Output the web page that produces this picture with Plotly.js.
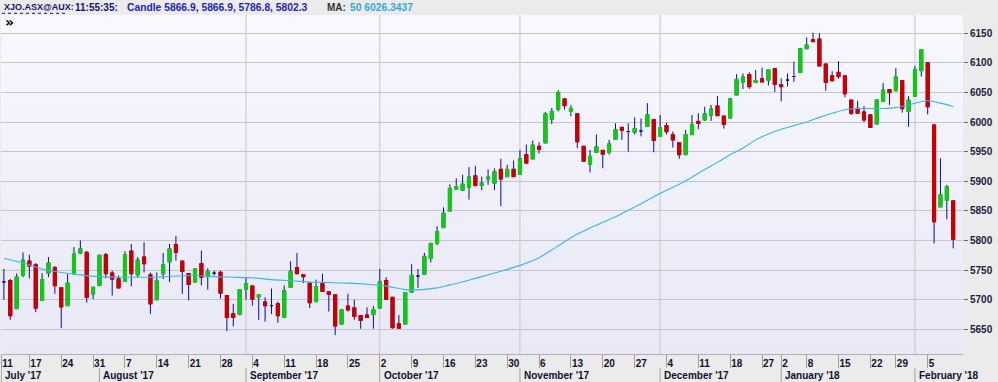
<!DOCTYPE html>
<html>
<head>
<meta charset="utf-8">
<script src="https://cdn.plot.ly/plotly-3.0.1.min.js"></script>
<style>html,body{margin:0;padding:0;background:#ebebeb;}#chart{width:998px;height:382px;}</style>
</head>
<body>
<div id="chart"></div>
<script>
// ---- data (trading-day index 0 = 11 Jul 2017 ... 149 = 9 Feb 2018) ----
const openV = [5730,5732,5685,5741,5765,5759,5699,5745,5754,5720,5690,5744,5779,5780,5710,5724,5776,5745,5735,5731,
5782,5742,5772,5742,5700,5744,5764,5793,5765,5744,5730,5761,5739,5745,5746,5707,5676,5675,5718,5723,
5705,5696,5690,5693,5670,5721,5754,5742,5728,5697,5727,5713,5708,5659,5689,5686,5673,5674,5675,5686,
5732,5704,5659,5659,5713,5740,5743,5770,5795,5822,5850,5887,5885,5890,5909,5893,5904,5897,5920,5908,
5920,5912,5945,5938,5959,5965,6005,6022,6039,6018,6014,5959,5929,5949,5952,5949,5971,5991,5984,5983,
5985,5993,6004,5976,5994,5979,5965,5945,5979,6001,6004,6012,6027,6010,6007,6046,6067,6080,6067,6073,
6071,6090,6063,6071,6077,6084,6124,6139,6140,6098,6078,6084,6078,6037,6023,6017,6012,5997,6035,6055,
6053,6070,6018,6044,6087,6100,5995,5857,5868,5866.9];
const highV = [5752,5735,5744,5780,5776,5762,5745,5772,5757,5720,5743,5789,5800,5782,5721,5776,5779,5749,5741,5782,
5794,5772,5797,5746,5746,5779,5794,5808,5765,5744,5752,5783,5753,5749,5749,5707,5693,5717,5738,5724,
5708,5704,5719,5697,5724,5765,5779,5742,5728,5734,5744,5714,5708,5683,5710,5700,5673,5687,5689,5752,
5738,5704,5674,5712,5760,5752,5779,5796,5824,5856,5895,5905,5911,5924,5926,5908,5920,5922,5938,5928,
5935,5953,5962,5969,5966,6017,6024,6054,6039,6029,6014,5959,5953,5979,5952,5970,5998,5991,5998,6008,
6006,6032,6004,6012,5999,5984,5965,5987,6012,6015,6026,6029,6044,6010,6041,6081,6082,6084,6088,6092,
6088,6091,6074,6082,6102,6124,6143,6151,6150,6098,6086,6103,6078,6037,6036,6027,6012,6039,6066,6055,
6091,6070,6044,6095,6122,6100,5997,5939,5894,5866.9];
const lowV = [5700,5666,5685,5738,5736,5679,5699,5738,5710,5652,5690,5744,5777,5695,5701,5724,5736,5707,5720,5731,
5723,5738,5746,5676,5700,5735,5730,5766,5710,5699,5730,5724,5717,5741,5702,5647,5655,5675,5700,5690,
5666,5663,5676,5661,5670,5721,5744,5728,5686,5697,5714,5680,5640,5659,5680,5666,5651,5670,5651,5686,
5701,5651,5652,5659,5713,5720,5743,5763,5792,5822,5850,5886,5885,5869,5891,5885,5894,5885,5858,5907,
5908,5912,5929,5938,5947,5965,5997,6018,6021,6010,5956,5934,5915,5949,5922,5945,5971,5970,5950,5979,
5976,5993,5949,5976,5979,5957,5938,5945,5979,5988,6002,6002,6011,5989,6007,6046,6056,6056,6066,6068,
6062,6051,6035,6060,6068,6084,6124,6136,6095,6053,6069,6073,6042,6012,6015,6000,5991,5996,6035,6029,
6053,6016,5992,6044,6077,6013,5795,5857,5836,5786.8];
const closeV = [5730,5673,5738,5767,5757,5686,5734,5762,5724,5688,5728,5777,5786,5704,5721,5775,5744,5735,5720,5776,
5744,5767,5761,5693,5732,5759,5786,5780,5748,5726,5752,5738,5748,5745,5711,5670,5670,5717,5727,5701,
5708,5690,5690,5673,5715,5748,5744,5739,5695,5722,5714,5709,5656,5683,5683,5672,5665,5670,5683,5730,
5701,5653,5652,5712,5741,5740,5773,5795,5815,5846,5888,5891,5895,5907,5893,5897,5907,5916,5904,5920,
5908,5938,5931,5961,5954,6014,6018,6050,6028,6023,5967,5934,5942,5958,5946,5963,5987,5986,5984,5989,
5985,6012,5969,5990,5984,5970,5945,5979,5996,5998,6014,6022,6011,5996,6039,6072,6076,6060,6070,6068,
6088,6064,6060,6071,6077,6124,6130,6136,6095,6067,6070,6077,6048,6015,6015,6004,5991,6037,6054,6050,
6076,6023,6037,6089,6122,6026,5832,5877,5891,5802.3];

// 50-period moving average (index, value)
const maIdx = [0,3,6,9,12,15,18,21,24,27,30,33,36,39,42,45,48,51,54,57,60,62,63,64,66,68,70,72,74,76,78,81,84,86,88,90,92,94,96,98,100,102,104,106,108,110,112,114,116,118,120,122,124,126,128,130,132,134,136,138,140,142,144,145,147,149];
const maVal = [5770,5762,5752,5746,5742,5739,5738,5738,5738,5740,5741,5739,5738,5737,5734,5732,5730,5729,5728,5726,5723,5719,5717,5716.5,5717.5,5720,5725,5730,5736,5742,5748,5758,5771,5784,5798,5811,5821,5831,5840,5851,5862,5874,5885,5895,5907,5920,5932,5945,5956,5970,5980,5988,5994,6000,6008,6015,6021,6023,6023,6023,6024.5,6029,6034.5,6036,6032,6026.3437];

// axis labels
const weekIdx = [-0.4,4,9,14,19,24,29,34,39,44,49,54,59,64,69,74,79,84,89,94,99,104,109,114,119,122,126,131,136,140,145];
const weekLbl = ['11','17','24','31','7','14','21','28','4','11','18','25','2','9','16','23','30','6','13','20','27','4','11','18','27','2','8','15','22','29','5'];
const monthIdx = [-0.4,15,38,59,81,103,122,143];
const monthLbl = ["July '17","August '17","September '17","October '17","November '17","December '17","January '18","February '18"];
const gridIdx = [38,59,81,103,143];

// ---- drawing ----
const idx = openV.map((_, i) => i);
const NAVY = '#0c0c96', GREEN = '#14c814', RED = '#c80000';
const isDoji = idx.map(i => openV[i] === closeV[i]);
const bO = idx.map(i => isDoji[i] ? null : openV[i]);
const bC = idx.map(i => isDoji[i] ? null : closeV[i]);
const bH = idx.map(i => isDoji[i] ? null : Math.max(openV[i], closeV[i]));
const bL = idx.map(i => isDoji[i] ? null : Math.min(openV[i], closeV[i]));

const wicks = {
  type: 'candlestick', x: idx, open: openV, high: highV, low: lowV, close: closeV,
  increasing: {line: {color: NAVY, width: 1}, fillcolor: 'rgba(0,0,0,0)'},
  decreasing: {line: {color: NAVY, width: 1}, fillcolor: 'rgba(0,0,0,0)'},
  whiskerwidth: 0, hoverinfo: 'skip', showlegend: false
};
const bodies = {
  type: 'candlestick', x: idx, open: bO, high: bH, low: bL, close: bC,
  increasing: {line: {color: GREEN, width: 1.3}, fillcolor: GREEN},
  decreasing: {line: {color: RED, width: 1.3}, fillcolor: RED},
  whiskerwidth: 0, hoverinfo: 'skip', showlegend: false
};
const ma = {
  type: 'scatter', mode: 'lines', x: maIdx, y: maVal,
  line: {color: '#3ab6e6', width: 1.1, shape: 'spline', smoothing: 0.6},
  hoverinfo: 'skip', showlegend: false
};

const W = 998, H = 382, ML = 1, MR = 35, MT = 15, MB = 28;
const PW = W - ML - MR, PH = H - MT - MB;
const px = x => (x - ML) / PW;          // pixel -> paper x
const py = y => 1 - (y - MT) / PH;      // pixel -> paper y

const FONT = 'Liberation Sans, Arial, sans-serif';
const last = openV.length - 1;
const candleTxt = 'Candle ' + [openV[last], highV[last], lowV[last], closeV[last]].map(v => v.toFixed(1)).join(', ');
const maTxt = '50 ' + maVal[maVal.length - 1].toFixed(4);

const annotations = [
  {text: 'XJO.ASX@AUX:', x: px(2), y: py(7), color: '#14146e', size: 9},
  {text: '11:55:35:', x: px(73), y: py(7), color: '#14146e', size: 10},
  {text: candleTxt, x: px(125), y: py(7), color: '#2424b8', size: 10.3},
  {text: 'MA:', x: px(325), y: py(7), color: '#333333', size: 10},
  {text: maTxt, x: px(348), y: py(7), color: '#33a8dc', size: 10.3}
].map(a => ({
  text: a.text, xref: 'paper', yref: 'paper', x: a.x, y: a.y, xanchor: 'left', yanchor: 'middle',
  showarrow: false, font: {family: FONT, size: a.size, color: a.color, weight: 700}
}));
annotations.push({
  text: '»', xref: 'paper', yref: 'paper', x: px(3), y: py(22), xanchor: 'left', yanchor: 'middle',
  showarrow: false, font: {family: 'DejaVu Sans, sans-serif', size: 14, color: '#000000', weight: 700}
});
monthIdx.forEach((m, k) => annotations.push({
  text: monthLbl[k], xref: 'x', yref: 'paper', x: m, y: py(375.5), xanchor: 'left', yanchor: 'middle',
  xshift: 2, showarrow: false, font: {family: FONT, size: 10, color: '#101030', weight: 700}
}));

const shapes = [];
gridIdx.forEach(g => shapes.push({type: 'line', xref: 'x', yref: 'paper', x0: g, x1: g, y0: 0, y1: 1,
  layer: 'below', line: {color: '#c6c6c6', width: 1}}));
monthIdx.forEach(m => shapes.push({type: 'line', xref: 'x', yref: 'paper', x0: m, x1: m, y0: py(368), y1: py(382),
  line: {color: '#a0a0a0', width: 1}}));
shapes.push({type: 'line', xref: 'paper', yref: 'paper', x0: px(2), x1: px(68), y0: py(13.3), y1: py(13.3),
  line: {color: '#14146e', width: 1, dash: 'dot'}});

const grad = '<svg xmlns="http://www.w3.org/2000/svg" width="10" height="100" preserveAspectRatio="none">' +
  '<defs><linearGradient id="g" x1="0" y1="0" x2="0" y2="1"><stop offset="0" stop-color="#f8f8fe"/>' +
  '<stop offset="1" stop-color="#e8e8f7"/></linearGradient></defs><rect width="10" height="100" fill="url(#g)"/></svg>';

const layout = {
  width: W, height: H, autosize: false,
  margin: {l: ML, r: MR, t: MT, b: MB, pad: 0},
  paper_bgcolor: '#ebebeb', plot_bgcolor: '#f2f2fb',
  showlegend: false, boxgap: 0.35,
  font: {family: FONT},
  images: [{source: 'data:image/svg+xml;charset=utf-8,' + encodeURIComponent(grad), xref: 'paper', yref: 'paper',
    x: 0, y: 1, sizex: 1, sizey: 1, xanchor: 'left', yanchor: 'top', sizing: 'stretch', layer: 'below'}],
  xaxis: {
    range: [-0.453, 150.54], fixedrange: true,
    rangeslider: {visible: false},
    tickmode: 'array', tickvals: weekIdx, ticktext: weekLbl,
    ticks: 'outside', ticklen: 13, tickcolor: '#a0a0a0', tickwidth: 1,
    ticklabelposition: 'outside right', ticklabelstandoff: 0,
    tickfont: {family: FONT, size: 10, color: '#101030', weight: 700},
    showgrid: false, zeroline: false, showline: true, linecolor: '#b0b0b0', linewidth: 1
  },
  yaxis: {
    side: 'right', range: [5608.3, 6180.9], fixedrange: true,
    tickmode: 'array', tickvals: [5650,5700,5750,5800,5850,5900,5950,6000,6050,6100,6150],
    ticks: 'outside', ticklen: 4, tickcolor: '#666666',
    tickfont: {family: FONT, size: 10, color: '#202040', weight: 700},
    showgrid: true, gridcolor: '#c6c6c6', gridwidth: 1, zeroline: false, showline: false
  },
  annotations: annotations,
  shapes: shapes
};

Plotly.newPlot('chart', [wicks, bodies, ma], layout, {staticPlot: true, displayModeBar: false});
</script>
</body>
</html>
